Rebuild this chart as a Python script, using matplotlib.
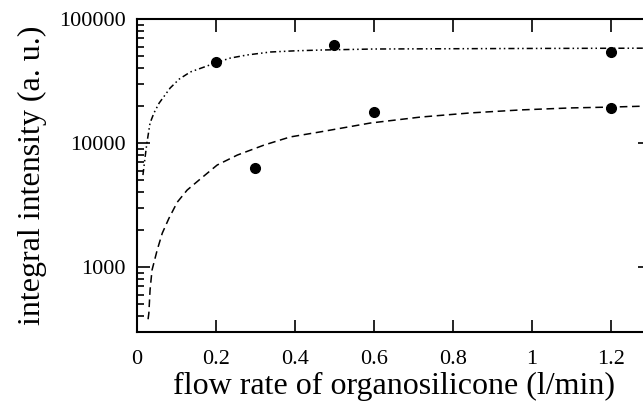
import matplotlib.pyplot as plt
from matplotlib.ticker import LogLocator, NullFormatter, FixedLocator

plt.rcParams['font.family'] = ['Liberation Serif', 'DejaVu Serif']

# measured points
x_upper = [0.2, 0.5, 1.2]
y_upper = [45000, 61700, 54200]
x_lower = [0.3, 0.6, 1.2]
y_lower = [6280, 17800, 19100]

# fitted curves
fit_up_x = [0.015, 0.02, 0.025, 0.033, 0.043, 0.056, 0.071, 0.084, 0.107,
            0.135, 0.170, 0.198, 0.236, 0.279, 0.338, 0.40, 0.464, 0.6,
            0.8, 1.0, 1.3]
fit_up_y = [5520, 7500, 10000, 14500, 17500, 21000, 24400, 27800, 32800,
            37400, 41000, 44200, 48400, 51300, 54200, 55400, 56200, 57300,
            57600, 57900, 58200]
fit_lo_x = [0.028, 0.030, 0.033, 0.038, 0.051, 0.064, 0.081, 0.102, 0.127,
            0.157, 0.203, 0.254, 0.322, 0.388, 0.464, 0.591, 0.718, 0.845,
            0.972, 1.099, 1.2, 1.3]
fit_lo_y = [380, 426, 653, 946, 1370, 1880, 2480, 3340, 4180, 5030, 6650,
            8000, 9640, 11200, 12300, 14500, 16200, 17500, 18500, 19200,
            19500, 19900]

xticks = [0, 0.2, 0.4, 0.6, 0.8, 1, 1.2]
xticklabels = ['0', '0.2', '0.4', '0.6', '0.8', '1', '1.2']

fig = plt.figure(figsize=(6.43, 4.07), dpi=100)
ax = fig.add_axes([0.2131, 0.1843, 0.798, 0.769])

ax.plot(fit_up_x, fit_up_y, color='black', lw=1.1, dashes=(4, 2, 1, 2, 1, 2))
ax.plot(fit_lo_x, fit_lo_y, color='black', lw=1.1, dashes=(5, 3))
ax.plot(x_upper, y_upper, 'o', color='black', ms=7)
ax.plot(x_lower, y_lower, 'o', color='black', ms=7)

ax.set_yscale('log')
ax.set_xlim(0, 1.3)
ax.set_ylim(300, 100000)
ax.xaxis.set_major_locator(FixedLocator(xticks))
ax.set_xticklabels(xticklabels)
ax.yaxis.set_major_locator(FixedLocator([1000, 10000, 100000]))
ax.set_yticklabels(['1000', '10000', '100000'])
ax.yaxis.set_minor_locator(LogLocator(base=10, subs=range(2, 10)))
ax.yaxis.set_minor_formatter(NullFormatter())

ax.tick_params(which='both', direction='in', top=True, right=True,
               labelsize=16, width=1.2)
ax.tick_params(axis='x', pad=13)
ax.tick_params(axis='y', pad=8)
ax.tick_params(which='major', length=9)
ax.tick_params(which='minor', length=5)
for s in ax.spines.values():
    s.set_linewidth(1.5)

ax.set_xlabel('flow rate of organosilicone (l/min)', fontsize=23, labelpad=2)
ax.set_ylabel('integral intensity (a. u.)', fontsize=23, labelpad=9)

fig.savefig('out.png', dpi=100)
